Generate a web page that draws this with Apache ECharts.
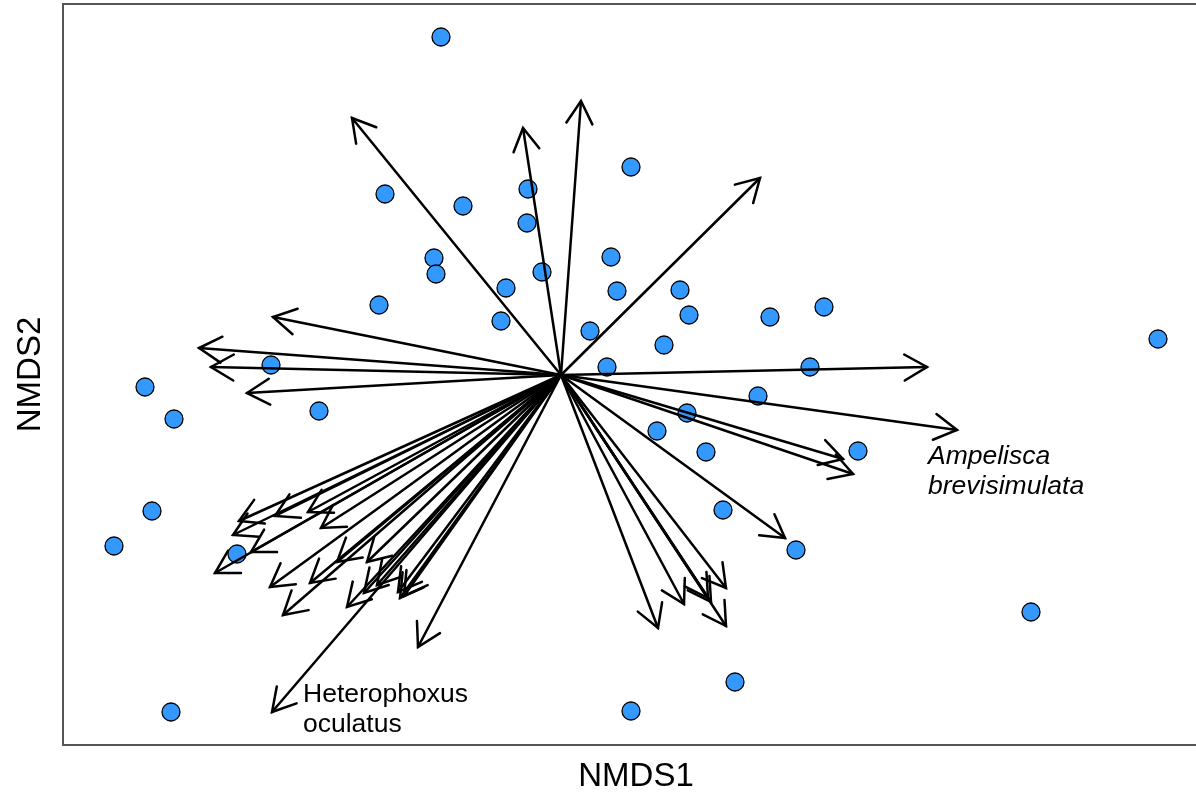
<!DOCTYPE html>
<html>
<head>
<meta charset="utf-8">
<script src="https://cdn.jsdelivr.net/npm/echarts@6/dist/echarts.min.js"></script>
<style>
html,body{margin:0;padding:0;background:#fff;}
#chart{width:1196px;height:792px;}
</style>
</head>
<body>
<div id="chart"></div>
<script>
// Site scores (NMDS1, NMDS2)
const siteX = [-0.300, 0.175, -0.440, -0.245, -0.0825, -0.085, -0.3175, -0.3125, 0.125, -0.0475,
  -0.1375, 0.140, 0.2975, 0.320, 0.5225, 0.6575, -0.455, -0.150, 0.0725, 0.2575,
  0.115, 0.6225, 0.4925, -0.725, -1.040, -0.9675, -0.605, 0.315, 0.240, 0.3625,
  0.7425, 1.4925, -1.0225, 0.405, -1.1175, -0.810, 0.5875, 1.175, 0.435, -0.975, 0.175];
const siteY = [0.845, 0.520, 0.4525, 0.4225, 0.465, 0.380, 0.2925, 0.2525, 0.295, 0.2575,
  0.2175, 0.210, 0.2125, 0.150, 0.145, 0.170, 0.175, 0.135, 0.110, 0.075,
  0.020, 0.020, -0.0525, 0.025, -0.030, -0.110, -0.090, -0.095, -0.140, -0.1925,
  -0.190, 0.090, -0.340, -0.3375, -0.4275, -0.4475, -0.4375, -0.5925, -0.7675, -0.8425, -0.840];

// Species vectors (arrow tips, from origin)
const vecX = [-0.5225, -0.095, 0.050, 0.4975, 0.915, 0.990, 0.705, 0.730, 0.560, 0.2425,
  0.3075, 0.375, 0.3675, 0.4125, 0.4125, -0.720, -0.905, -0.875, -0.785, -0.805,
  -0.820, -0.775, -0.865, -0.715, -0.6325, -0.600, -0.7275, -0.695, -0.6275, -0.535,
  -0.560, -0.485, -0.4925, -0.460, -0.4025, -0.3925, -0.4075, -0.3575, -0.7225];
const vecY = [0.6425, 0.6175, 0.685, 0.4925, 0.020, -0.1375, -0.210, -0.2475, -0.4075, -0.6325,
  -0.5725, -0.5675, -0.5575, -0.5325, -0.6275, 0.145, 0.0675, 0.020, -0.045, -0.365,
  -0.400, -0.4425, -0.495, -0.3525, -0.3425, -0.3825, -0.530, -0.600, -0.520, -0.580,
  -0.4675, -0.4675, -0.545, -0.525, -0.5575, -0.5525, -0.5425, -0.680, -0.8425];

// Labelled species
const labelText = ['Ampelisca\nbrevisimulata', 'Heterophoxus\noculatus'];
const labelX = [0.990, -0.7225];
const labelY = [-0.1375, -0.8425];
const labelItalic = [true, false];

const xMin = -1.245, xMax = 1.62, yMin = -0.925, yMax = 0.9275;

const chart = echarts.init(document.getElementById('chart'), null, {renderer: 'canvas'});

const sites = siteX.map((x, i) => [x, siteY[i]]);
const vecs = vecX.map((x, i) => [x, vecY[i]]);
const labels = labelX.map((x, i) => [x, labelY[i], i]);

const labelOffset = [[-29, 12], [31, -32]];

chart.setOption({
  animation: false,
  backgroundColor: '#fff',
  grid: {left: 63, right: -13, top: 4, bottom: 47, show: true, borderColor: '#555', borderWidth: 2,
    backgroundColor: 'transparent', containLabel: false, outerBoundsMode: 'none'},
  xAxis: {
    type: 'value', min: xMin, max: xMax,
    name: 'NMDS1', nameLocation: 'middle', nameGap: 15,
    nameTextStyle: {fontFamily: 'Liberation Sans', fontSize: 33, color: '#000'},
    axisLine: {show: false}, axisTick: {show: false}, axisLabel: {show: false}, splitLine: {show: false}
  },
  yAxis: {
    type: 'value', min: yMin, max: yMax,
    name: 'NMDS2', nameLocation: 'middle', nameGap: 16, nameRotate: 90,
    nameTextStyle: {fontFamily: 'Liberation Sans', fontSize: 33, color: '#000'},
    axisLine: {show: false}, axisTick: {show: false}, axisLabel: {show: false}, splitLine: {show: false}
  },
  series: [
    {
      type: 'scatter', data: sites, symbol: 'circle', symbolSize: 18, z: 2,
      itemStyle: {color: '#3399FF', borderColor: '#000', borderWidth: 1.3, opacity: 1},
      emphasis: {disabled: true}, silent: true
    },
    {
      type: 'custom', data: vecs, z: 3, clip: false, silent: true,
      encode: {x: 0, y: 1},
      renderItem: function (params, api) {
        const o = api.coord([0, 0]);
        const t = api.coord([api.value(0), api.value(1)]);
        const ang = Math.atan2(t[1] - o[1], t[0] - o[0]);
        const L = 26, A = Math.PI / 6;
        const p1 = [t[0] - L * Math.cos(ang - A), t[1] - L * Math.sin(ang - A)];
        const p2 = [t[0] - L * Math.cos(ang + A), t[1] - L * Math.sin(ang + A)];
        return {
          type: 'group',
          children: [
            {type: 'line', shape: {x1: o[0], y1: o[1], x2: t[0], y2: t[1]}, style: {stroke: '#000', lineWidth: 2.5, lineCap: 'round'}},
            {type: 'polyline', shape: {points: [p1, t, p2]}, style: {stroke: '#000', lineWidth: 2.5, fill: null, lineJoin: 'miter', lineCap: 'round'}}
          ]
        };
      }
    },
    {
      type: 'custom', data: labels, z: 4, clip: false, silent: true,
      encode: {x: 0, y: 1},
      renderItem: function (params, api) {
        const i = api.value(2);
        const t = api.coord([api.value(0), api.value(1)]);
        const off = labelOffset[i];
        return {
          type: 'text',
          x: t[0] + off[0], y: t[1] + off[1],
          style: {
            text: labelText[i], fill: '#000',
            fontFamily: 'Liberation Sans', fontSize: 26.5, fontStyle: labelItalic[i] ? 'italic' : 'normal',
            lineHeight: 30, align: 'left', verticalAlign: 'top'
          }
        };
      }
    }
  ]
});
</script>
</body>
</html>
